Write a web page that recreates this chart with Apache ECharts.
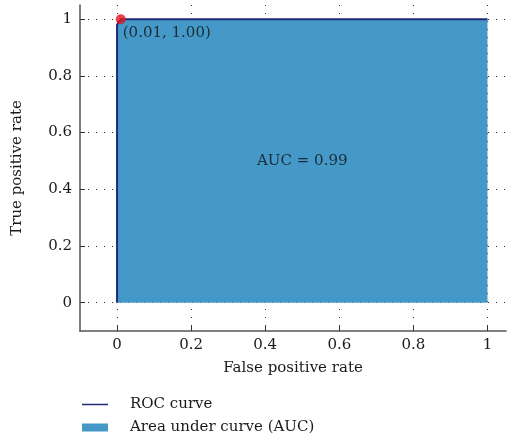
<!DOCTYPE html>
<html>
<head>
<meta charset="utf-8">
<script src="https://cdn.jsdelivr.net/npm/echarts@6/dist/echarts.min.js"></script>
<style>
  html, body { margin: 0; padding: 0; background: #fff; }
  #chart { width: 509px; height: 437px; }
</style>
</head>
<body>
<div id="chart"></div>
<script>
// ROC curve points
const fpr = [0, 0, 0.01, 1];
const tpr = [0, 0.98, 1, 1];
const bestPoint = [0.01, 1.0];
const aucValue = 0.99;
const aucLabelAt = [0.5, 0.5];
const tickValues = [0, 0.2, 0.4, 0.6, 0.8, 1];

const FONT = 'DejaVu Serif';
const FS = 15;

const myChart = echarts.init(document.getElementById('chart'));

const rocData = fpr.map((x, i) => [x, tpr[i]]);

function axisCommon() {
  return {
    type: 'value',
    axisLine: { show: true, onZero: false, lineStyle: { color: '#555', width: 1.5 } },
    axisTick: { show: true, inside: true, length: 5, customValues: tickValues, lineStyle: { color: '#333' } },
    axisLabel: { customValues: tickValues, color: '#1a1a1a', fontFamily: FONT, fontSize: FS },
    splitLine: { show: true, lineStyle: { color: '#333', type: [1, 7], width: 1 } },
    nameLocation: 'middle',
    nameTextStyle: { color: '#1a1a1a', fontFamily: FONT, fontSize: FS }
  };
}

const xAxis = Object.assign(axisCommon(), {
  min: -0.1, max: 1.05,
  name: 'False positive rate',
  nameGap: 30
});
xAxis.axisLabel.margin = 7;

const yAxis = Object.assign(axisCommon(), {
  min: -0.1, max: 1.05,
  name: 'True positive rate',
  nameGap: 55
});
yAxis.axisLabel.margin = 8;

function legendBox(name, icon, top) {
  return {
    orient: 'vertical',
    left: 82,
    top: top,
    padding: 0,
    itemWidth: 26,
    itemHeight: 8,
    textStyle: { color: '#1a1a1a', fontFamily: FONT, fontSize: FS, padding: [0, 0, 0, 17] },
    data: [{ name: name, icon: icon }]
  };
}

const option = {
  animation: false,
  grid: { left: 80, top: 5, width: 426, height: 326, outerBoundsMode: 'none' },
  xAxis: xAxis,
  yAxis: yAxis,
  legend: [
    legendBox('ROC curve', 'path://M0,0 H52 V3 H0 Z', 397),
    legendBox('Area under curve (AUC)', 'rect', 420)
  ],
  series: [
    {
      name: 'Area under curve (AUC)',
      type: 'line',
      data: rocData,
      symbol: 'none',
      lineStyle: { width: 0 },
      itemStyle: { color: '#4499c8' },
      areaStyle: { color: '#4499c8', opacity: 1 }
    },
    {
      name: 'ROC curve',
      type: 'line',
      data: rocData,
      symbol: 'none',
      lineStyle: { color: '#1f2a78', width: 2 },
      itemStyle: { color: '#1f2a78' }
    },
    {
      name: 'auc',
      type: 'scatter',
      data: [aucLabelAt],
      symbolSize: 0,
      label: {
        show: true,
        position: 'inside',
        color: '#111',
        fontFamily: FONT,
        fontSize: FS,
        formatter: () => 'AUC = ' + aucValue.toFixed(2)
      },
      z: 4
    },
    {
      name: 'best',
      type: 'scatter',
      data: [bestPoint],
      symbolSize: 10,
      itemStyle: { color: '#e3131b' },
      label: {
        show: true,
        position: 'bottom',
        align: 'left',
        offset: [2, -4],
        color: '#111',
        fontFamily: FONT,
        fontSize: FS,
        formatter: p => '(' + p.value[0].toFixed(2) + ', ' + p.value[1].toFixed(2) + ')'
      },
      z: 5
    }
  ]
};

myChart.setOption(option);
</script>
</body>
</html>
